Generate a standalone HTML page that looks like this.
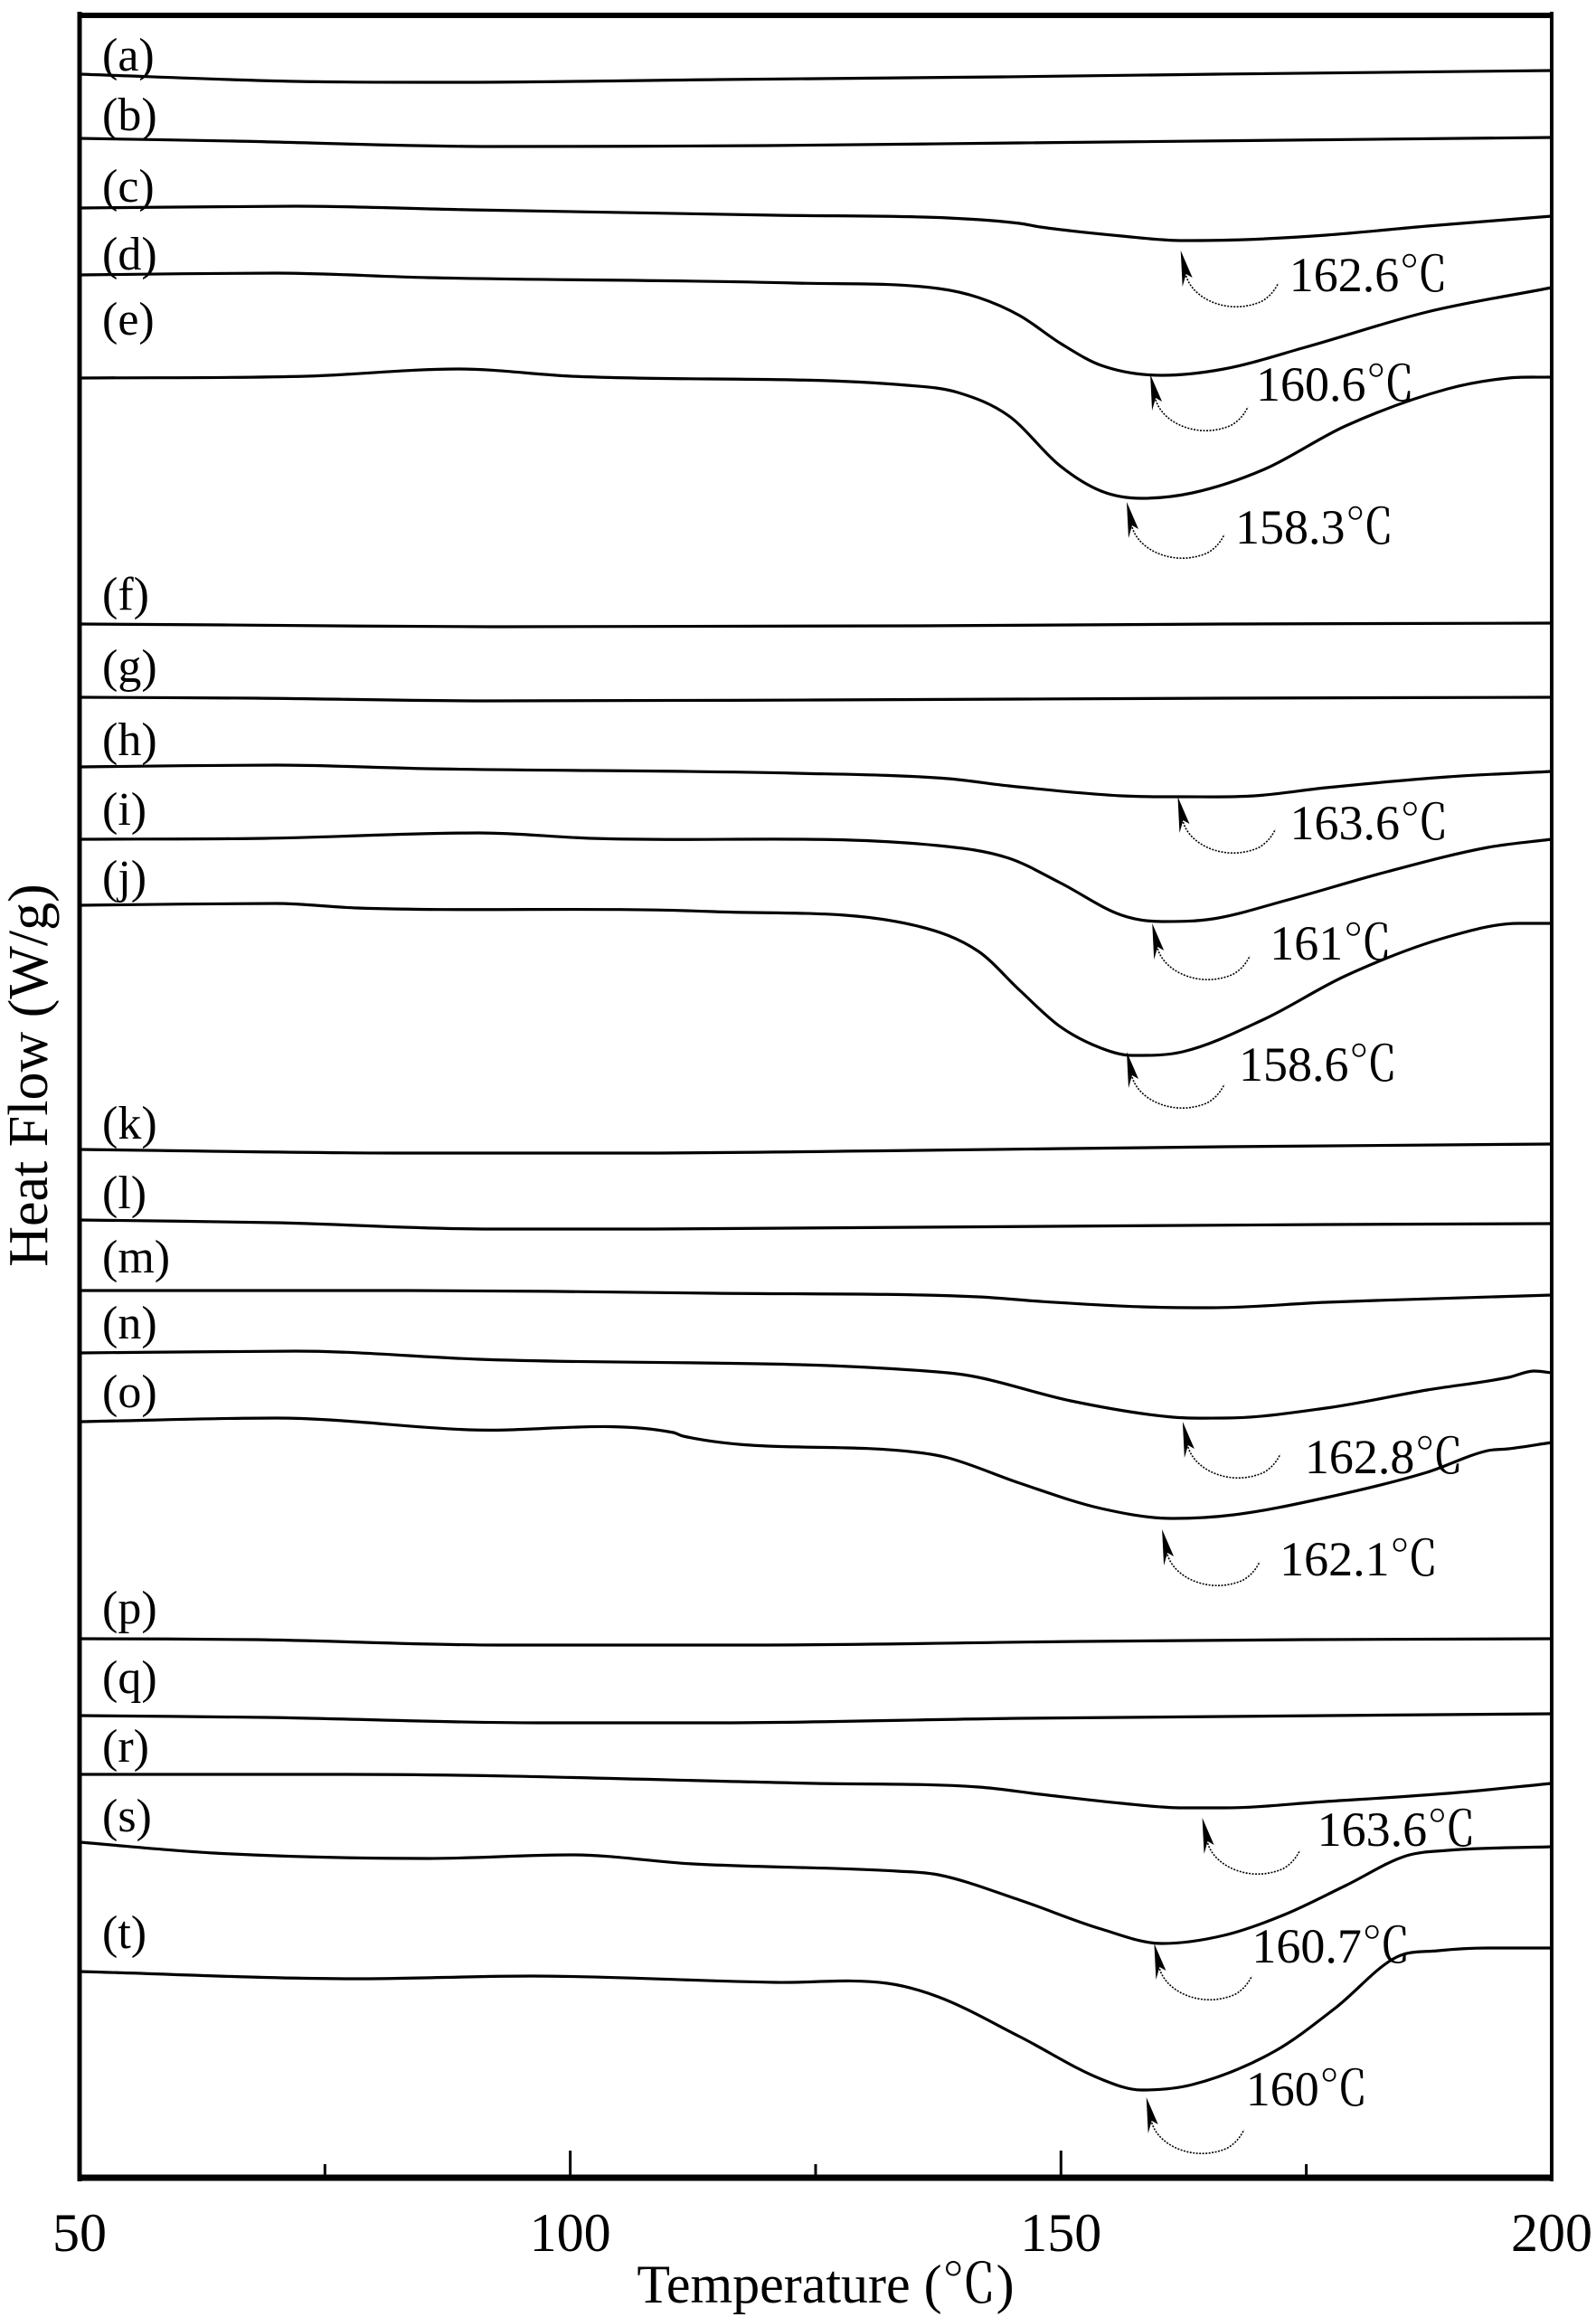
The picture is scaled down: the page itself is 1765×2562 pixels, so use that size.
<!DOCTYPE html>
<html><head><meta charset="utf-8"><style>
html,body{margin:0;padding:0;background:#fff;}
svg{display:block;}
text{font-family:"Liberation Serif","Noto Serif CJK SC",serif;fill:#000;}
</style></head><body>
<svg id="chart" width="1765" height="2562" viewBox="0 0 1765 2562" xmlns="http://www.w3.org/2000/svg">
<g id="curves"></g>
<g id="labels"></g>
<g id="anns"></g>
<g id="axes">
<line x1="88" y1="13" x2="88" y2="2412" stroke="#000" stroke-width="5"/>
<line x1="1716" y1="13" x2="1716" y2="2412" stroke="#000" stroke-width="4"/>
<line x1="86" y1="17" x2="1718" y2="17" stroke="#000" stroke-width="6"/>
<line x1="86" y1="2408" x2="1718" y2="2408" stroke="#000" stroke-width="7"/>
</g>
<g id="ticks"></g>
<text x="913" y="2546" font-size="60" text-anchor="middle">Temperature (℃)</text>
<text transform="translate(52,1189) rotate(-90)" font-size="62" text-anchor="middle">Heat Flow (W/g)</text>
</svg>
<script>
const curveNames = ['a','b','c','d','e','f','g','h','i','j','k','l','m','n','o','p','q','r','s','t'];
const tA=[50,72,88,115,144,166,200], vA=[232.8,232.0,231.9,232.2,232.5,232.8,233.2];
const tB=[50,65.8,91.8,119.9,145.8,200], vB=[225.7,225.4,224.8,224.9,225.2,225.8];
const tC=[50,72,89.7,120.9,138.5,145.8,147.9,156.2,162.4,168.7,177,187.3,200], vC=[218.0,218.2,217.8,217.2,216.9,216.3,215.9,214.9,214.4,214.5,215.0,216.0,217.1];
const tD=[50,70,85.5,122.9,137.5,141.6,145.8,150,154.1,160.3,166.6,174.9,187.3,200], vD=[210.6,210.8,210.3,209.7,209.1,208.1,206.1,203.0,200.6,199.5,200.2,202.6,206.5,209.2];
const tE=[50,73.1,88.6,100.1,134.3,139.5,144.7,149.9,154.1,158.2,163.4,170.7,179,189.4,195.6,200], vE=[199.2,199.4,200.2,199.4,198.4,197.6,195.0,189.5,186.7,185.9,186.5,189.1,193.9,198.0,199.2,199.3];
const tF=[50,64.7,91.8,135.4,166.6,200], vF=[172.0,171.9,171.7,171.8,172.0,172.1];
const tG=[50,67.9,91.8,125,166.6,200], vG=[163.9,163.8,163.5,163.6,163.8,163.9];
const tH=[50,70,85.5,122.9,138.5,144.7,156.2,162.4,169.7,177,189.4,200], vH=[156.2,156.4,156.0,155.5,154.9,154.1,153.0,152.9,153.0,153.9,155.1,155.7];
const tI=[50,68.9,90.7,102.2,137.5,144.7,149.9,156.2,160.3,165.5,172.8,183.2,193.5,200], vI=[148.2,148.3,148.9,148.3,147.5,146.1,143.4,139.8,139.1,139.4,141.4,144.6,147.3,148.2];
const tJ=[50,70,78.3,114.6,135.4,141.6,145.8,149.9,154.1,157.2,162.4,170.7,179,189.4,196.7,200], vJ=[140.9,141.1,140.6,140.2,138.6,135.8,131.5,127.5,125.1,124.3,124.7,128.3,133.1,137.4,138.9,138.9];
const tK=[50,83.4,106.3,135.4,166.6,200], vK=[113.9,113.5,113.5,113.8,114.2,114.5];
const tL=[50,70,91.8,108.4,135.4,177,200], vL=[106.1,105.8,105.1,105.1,105.3,105.6,105.7];
const tM=[50,83.4,114.6,141.6,147.9,158.2,165.5,177,200], vM=[98.3,98.3,98.0,97.6,97.1,96.5,96.4,97.0,97.8];
const tN=[50,72,90.7,138.5,141.6,151,161.4,166.6,177,187.3,195.6,198.2,200], vN=[91.4,91.6,90.7,89.2,88.7,86.1,84.3,84.2,85.3,87.3,88.7,89.4,89.2];
const tO=[50,70,89.7,110.5,111.5,135.4,138.5,145.8,154.1,161.4,167.6,177,187.3,193.5,195.6,200], vO=[83.8,84.2,82.9,82.6,82.2,80.4,79.8,77.0,74.2,73.1,73.5,75.4,78.2,80.6,80.8,81.5];
const tP=[50,67.9,92.8,118.8,152,174.9,200], vP=[59.8,59.7,59.1,59.1,59.5,59.7,59.8];
const tQ=[50,68.9,96.9,114.6,145.8,200], vQ=[51.3,51.1,50.5,50.5,51.0,51.5];
const tR=[50,67.9,77.2,125,141.6,147.9,156.2,162.4,166.6,177,189.4,200], vR=[44.8,44.8,44.8,43.8,43.4,42.6,41.6,41.1,41.1,41.8,42.7,43.8];
const tS=[50,63.7,85.5,100.1,112.5,133.3,137.5,145.8,154.1,160.3,166.6,172.8,179,185.2,189.4,200], vS=[37.3,36.1,35.5,35.9,34.9,34.1,33.7,30.9,27.7,26.1,27.0,29.3,32.5,35.8,36.4,36.8];
const tT=[50,78.3,96,120.9,132.3,137.5,145.8,154.1,158.2,163.4,171.8,178,184.2,188.4,193.5,200], vT=[23.0,22.2,22.5,21.8,21.7,20.2,15.8,11.1,9.9,10.5,14.2,19.0,24.6,25.3,25.6,25.6];
const allT=[tA,tB,tC,tD,tE,tF,tG,tH,tI,tJ,tK,tL,tM,tN,tO,tP,tQ,tR,tS,tT];
const allV=[vA,vB,vC,vD,vE,vF,vG,vH,vI,vJ,vK,vL,vM,vN,vO,vP,vQ,vR,vS,vT];
const annText=['162.6℃','160.6℃','158.3℃','163.6℃','161℃','158.6℃','162.8℃','162.1℃','163.6℃','160.7℃','160℃'];
const annTipT=[162.2,159.1,156.7,161.9,159.3,156.7,162.4,160.3,164.4,159.5,158.7];
const annTipV=[213.3,199.6,185.5,152.9,138.9,124.7,83.8,71.9,40.0,26.1,9.1];
const tickVals=[50,75,100,125,150,175,200];
const tickLabels=['50','','100','','150','','200'];

const labelY=[61,127,206,281,353,657,737,818,895,970,1242,1319,1390,1463,1539,1778,1855,1931,2008,2137];
const annDX=[120,117,120,124,130,124,135,130,127,108,110];
const annDY=[26,10,27,28,21,13,38,32,12,2,-10];

const NS='http://www.w3.org/2000/svg';
function xS(t){return 88+(t-50)*10.853;}
function yS(v){return 2410-v*10;}
function mk(tag,attrs,parent){const e=document.createElementNS(NS,tag);for(const k in attrs)e.setAttribute(k,attrs[k]);parent.appendChild(e);return e;}
function smooth(pts){
 const n=pts.length,m=[];
 for(let i=0;i<n;i++){
  if(i===0)m.push((pts[1][1]-pts[0][1])/(pts[1][0]-pts[0][0]));
  else if(i===n-1)m.push((pts[n-1][1]-pts[n-2][1])/(pts[n-1][0]-pts[n-2][0]));
  else{const s1=(pts[i][1]-pts[i-1][1])/(pts[i][0]-pts[i-1][0]),s2=(pts[i+1][1]-pts[i][1])/(pts[i+1][0]-pts[i][0]);
   m.push(s1*s2<=0?0:(s1+s2)/2);}
 }
 let d='M'+pts[0][0].toFixed(1)+','+pts[0][1].toFixed(1);
 for(let i=0;i<n-1;i++){const dx=(pts[i+1][0]-pts[i][0])/3;
  d+=' C'+(pts[i][0]+dx).toFixed(1)+','+(pts[i][1]+m[i]*dx).toFixed(1)+' '+(pts[i+1][0]-dx).toFixed(1)+','+(pts[i+1][1]-m[i+1]*dx).toFixed(1)+' '+pts[i+1][0].toFixed(1)+','+pts[i+1][1].toFixed(1);}
 return d;}

const gC=document.getElementById('curves'),gL=document.getElementById('labels'),gA=document.getElementById('anns'),gT=document.getElementById('ticks');
curveNames.forEach((n,i)=>{
 const pts=allT[i].map((t,j)=>[xS(t),yS(allV[i][j])]);
 const p=mk('path',{d:smooth(pts),fill:'none',stroke:'#000','stroke-width':3.2},gC);
 
 
 const tx=mk('text',{x:113,y:labelY[i]+17,'font-size':52},gL);
 tx.textContent='('+n+')';
 
 
});
annText.forEach((s,i)=>{
 const tx=xS(annTipT[i]),ty=yS(annTipV[i]);
 const g=mk('g',{},gA);
 
 
 mk('polygon',{points:`${tx},${ty} ${tx+2},${ty+40} ${tx+6},${ty+26} ${tx+13},${ty+30}`,fill:'#000'},g);
 mk('path',{d:`M${tx+6},${ty+28} C${tx+14},${ty+55} ${tx+55},${ty+72} ${tx+90},${ty+56} C${tx+100},${ty+50} ${tx+105},${ty+42} ${tx+108},${ty+36}`,fill:'none',stroke:'#000','stroke-width':1.6,'stroke-dasharray':'2 1.5'},g);
 const t=mk('text',{x:tx+annDX[i],y:ty+annDY[i]+19,'font-size':54},g);
 t.textContent=s;
});
tickVals.forEach((v,i)=>{
 const x=xS(v),major=(i%2===0);
 if(i>0&&i<tickVals.length-1){
  const l=mk('line',{x1:x,y1:2408,x2:x,y2:major?2378:2393,stroke:'#000','stroke-width':3},gT);
  
  
 }
 if(tickLabels[i]){
  const t=mk('text',{x:x,y:2489,'font-size':60,'text-anchor':'middle'},gT);
  t.textContent=tickLabels[i];
  
  
 }
});
</script>
</body></html>
